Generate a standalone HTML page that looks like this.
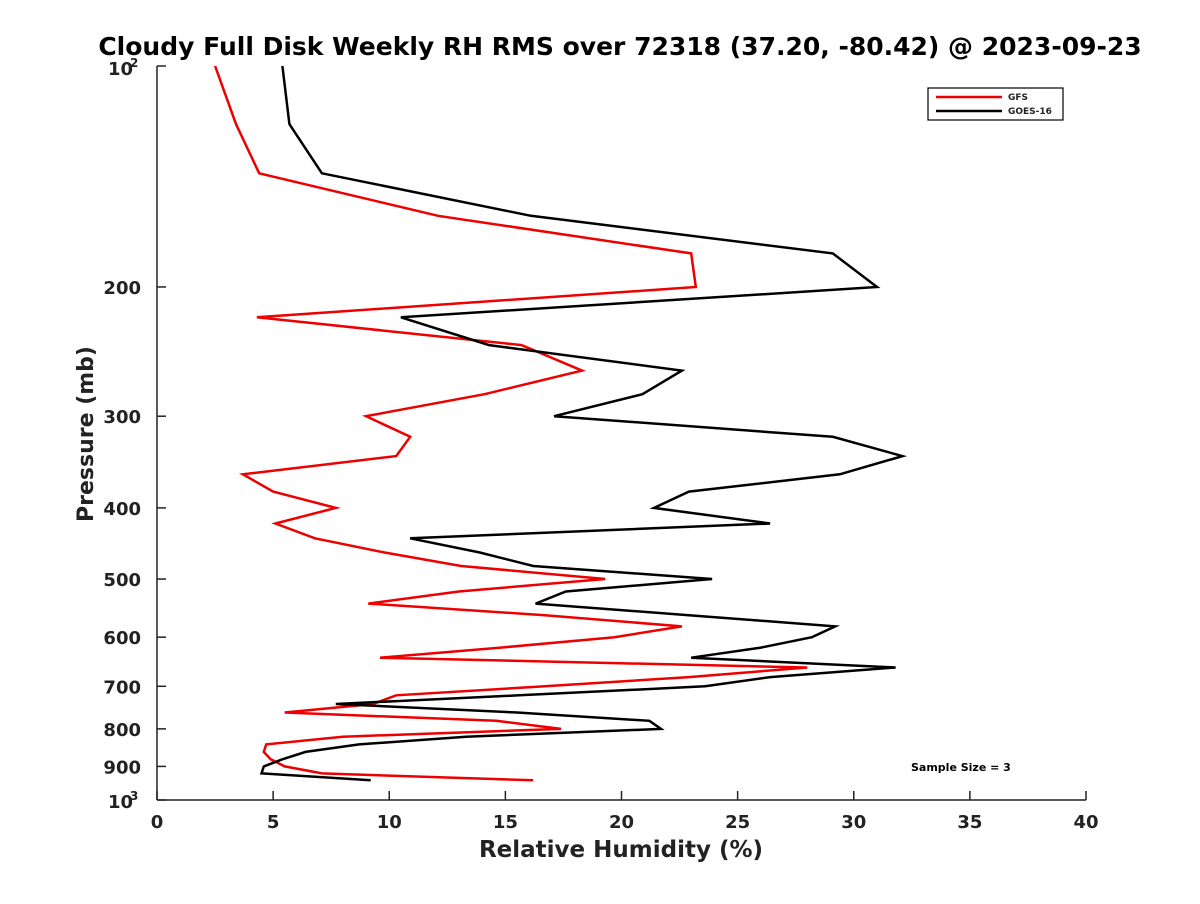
<!DOCTYPE html>
<html><head><meta charset="utf-8"><style>
body{margin:0;background:#fff;font-family:"DejaVu Sans","Liberation Sans",sans-serif}
text{font-family:"DejaVu Sans","Liberation Sans",sans-serif;font-weight:bold;fill:#222}
</style></head><body>
<svg id="chart" width="1200" height="900" xmlns="http://www.w3.org/2000/svg">
<rect width="1200" height="900" fill="#fff"/>
<text x="620" y="55" font-size="25" text-anchor="middle" style="fill:#000">Cloudy Full Disk Weekly RH RMS over 72318 (37.20, -80.42) @ 2023-09-23</text>
<g id="axes"></g>
<g id="series"></g>
<g>
<rect x="928" y="88" width="135" height="32" fill="#fff" stroke="#000" stroke-width="1.2"/>
<line x1="936" y1="97" x2="1002" y2="97" stroke="#e00" stroke-width="2.5"/>
<text x="1008" y="100" font-size="9">GFS</text>
<line x1="936" y1="111" x2="1002" y2="111" stroke="#000" stroke-width="2.5"/>
<text x="1008" y="114" font-size="9">GOES-16</text>
</g>
<text x="911" y="771" font-size="11" style="fill:#000">Sample Size = 3</text>
<text x="621" y="857" font-size="23" text-anchor="middle">Relative Humidity (%)</text>
<text transform="translate(93,434) rotate(-90)" font-size="22" text-anchor="middle">Pressure (mb)</text>
</svg>
<script>
const pressures=[100,120,140,160,180,200,220,240,260,280,300,320,340,360,380,400,420,440,460,480,500,520,540,560,580,600,620,640,660,680,700,720,740,760,780,800,820,840,860,880,900,920,940];
const goes16=[5.4,5.7,7.1,16.1,29.1,31.0,10.5,14.3,22.6,20.9,17.1,29.1,32.1,29.4,22.9,21.4,26.4,10.9,13.9,16.2,23.9,17.6,16.3,22.9,29.2,28.2,26.0,23.0,31.8,26.4,23.6,15.6,7.7,15.5,21.2,21.7,13.3,8.7,6.4,5.4,4.6,4.5,9.2];
const gfs=[2.5,3.4,4.4,12.1,23.0,23.2,4.3,15.7,18.3,14.1,9.0,10.9,10.3,3.7,5.0,7.7,5.1,6.8,9.8,13.1,19.3,13.0,9.1,16.7,22.6,19.7,14.8,9.6,28.0,22.9,16.7,10.3,9.3,5.5,14.6,17.4,8.0,4.7,4.6,4.9,5.5,7.1,16.2];
const xTicks=[0,5,10,15,20,25,30,35,40];
const yTicks=[200,300,400,500,600,700,800,900];
const NS='http://www.w3.org/2000/svg';
const X0=157,X1=1086,Y0=66,Y1=800;
function sx(v){return X0+(v-0)/(40-0)*(X1-X0);}
function sy(p){return Y0+(Math.log10(p)-2)*(Y1-Y0);}
function mk(tag,attrs,parent){const e=document.createElementNS(NS,tag);for(const k in attrs)e.setAttribute(k,attrs[k]);parent.appendChild(e);return e;}
const ax=document.getElementById('axes');
let l=mk('line',{x1:X0,y1:Y0,x2:X0,y2:Y1,stroke:'#222','stroke-width':1.5},ax);


l=mk('line',{x1:X0,y1:Y1,x2:X1,y2:Y1,stroke:'#222','stroke-width':1.5},ax);


xTicks.forEach(v=>{
  const x=sx(v);
  mk('line',{x1:x,y1:Y1,x2:x,y2:Y1-9,stroke:'#222','stroke-width':1.5},ax);
  const t=mk('text',{x:x,y:828,'font-size':18,'text-anchor':'middle'},ax);
  t.textContent=v;
  
  
});
yTicks.concat([100,1000]).forEach(p=>{
  const y=sy(p);
  mk('line',{x1:X0,y1:y,x2:X0+9,y2:y,stroke:'#222','stroke-width':1.5},ax);
});
yTicks.forEach(p=>{
  const t=mk('text',{x:141,y:sy(p)+7,'font-size':18,'text-anchor':'end'},ax);
  t.textContent=p;
  
  
});
[[100,'2'],[1000,'3']].forEach(([p,e])=>{
  const t=mk('text',{x:108,y:sy(p)+(p===100?9:8),'font-size':18},ax);
  t.textContent='10';
  
  
  const s=mk('text',{x:130,y:sy(p)+(p===100?1:0),'font-size':12},ax);
  s.textContent=e;
});
const sg=document.getElementById('series');
function draw(vals,color,name){
  const pts=vals.map((v,i)=>sx(v).toFixed(1)+','+sy(pressures[i]).toFixed(1)).join(' ');
  const pl=mk('polyline',{points:pts,fill:'none',stroke:color,'stroke-width':2.5,'stroke-linejoin':'miter'},sg);
  
  
}
draw(gfs,'#e00','gfs-line');
draw(goes16,'#000','goes16-line');
</script>
</body></html>
